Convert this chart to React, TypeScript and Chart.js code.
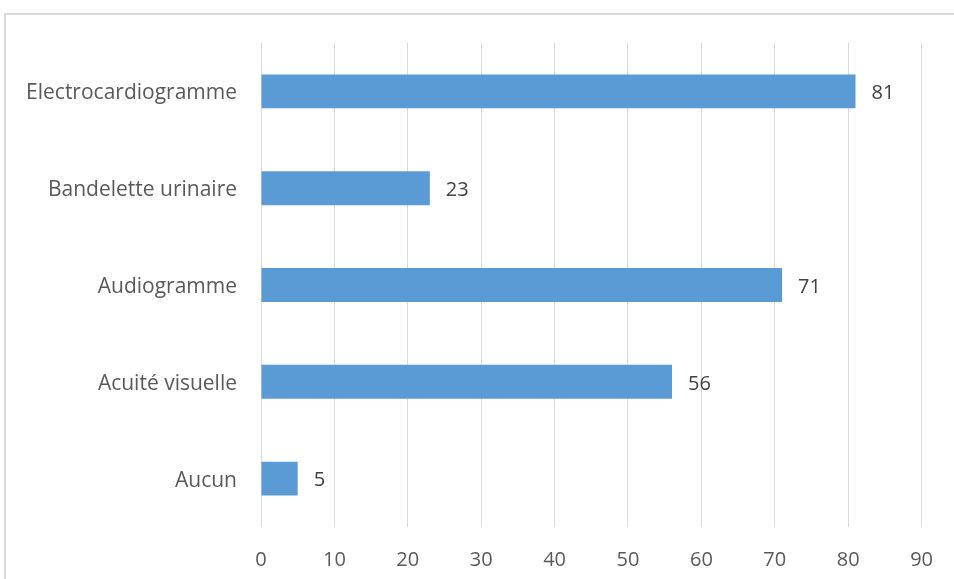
import React, { useEffect, useRef } from "react";
import { Chart, registerables } from "chart.js";

Chart.register(...registerables);

const categories = ["Electrocardiogramme", "Bandelette urinaire", "Audiogramme", "Acuité visuelle", "Aucun"];
const values = [81, 23, 71, 56, 5];
const xTicks = [0, 10, 20, 30, 40, 50, 60, 70, 80, 90];

const FONT = "'Open Sans', 'Liberation Sans', sans-serif";

const valueLabels = {
  id: "valueLabels",
  afterDatasetsDraw(chart: any) {
    const ctx = chart.ctx;
    const meta = chart.getDatasetMeta(0);
    ctx.save();
    ctx.font = `20px ${FONT}`;
    ctx.fillStyle = "#404040";
    ctx.textAlign = "left";
    ctx.textBaseline = "middle";
    meta.data.forEach((bar: any, i: number) => {
      ctx.fillText(String(chart.data.datasets[0].data[i]), bar.x + 16, bar.y + 2);
    });
    ctx.restore();
  },
};

export default function App() {
  const ref = useRef<HTMLCanvasElement>(null);
  useEffect(() => {
    if (!ref.current) return;
    const chart = new Chart(ref.current, {
      type: "bar",
      data: {
        labels: categories,
        datasets: [
          {
            data: values,
            backgroundColor: "#5B9BD5",
            borderWidth: 0,
            barPercentage: 0.35,
            categoryPercentage: 1,
          },
        ],
      },
      options: {
        indexAxis: "y",
        responsive: false,
        animation: false,
        layout: { padding: { top: 43, right: 31, left: 0, bottom: 0 } },
        plugins: { legend: { display: false }, tooltip: { enabled: false } },
        scales: {
          x: {
            min: 0,
            max: 90,
            afterBuildTicks: (axis: any) => {
              axis.ticks = xTicks.map((v) => ({ value: v }));
            },
            afterFit: (axis: any) => {
              axis.height = 52;
            },
            grid: { color: "#d9d9d9", drawTicks: false, lineWidth: 1 },
            border: { display: false },
            ticks: { color: "#595959", font: { family: FONT, size: 20 }, padding: 21 },
          },
          y: {
            afterFit: (axis: any) => {
              axis.width = 261;
            },
            grid: { display: false, drawTicks: false },
            border: { display: false },
            ticks: { color: "#595959", font: { family: FONT, size: 21 }, padding: 24, labelOffset: 2 },
          },
        },
      },
      plugins: [valueLabels],
    });
    return () => chart.destroy();
  }, []);

  return (
    <div style={{ position: "fixed", left: 0, top: 0, width: 954, height: 579, overflow: "hidden", background: "#fff" }}>
      <div
        style={{
          position: "absolute",
          left: 4,
          top: 13,
          width: 1200,
          height: 1200,
          border: "2px solid #d9d9d9",
        }}
      />
      <canvas ref={ref} width={954} height={579} style={{ position: "absolute", left: 0, top: 0 }} />
    </div>
  );
}
